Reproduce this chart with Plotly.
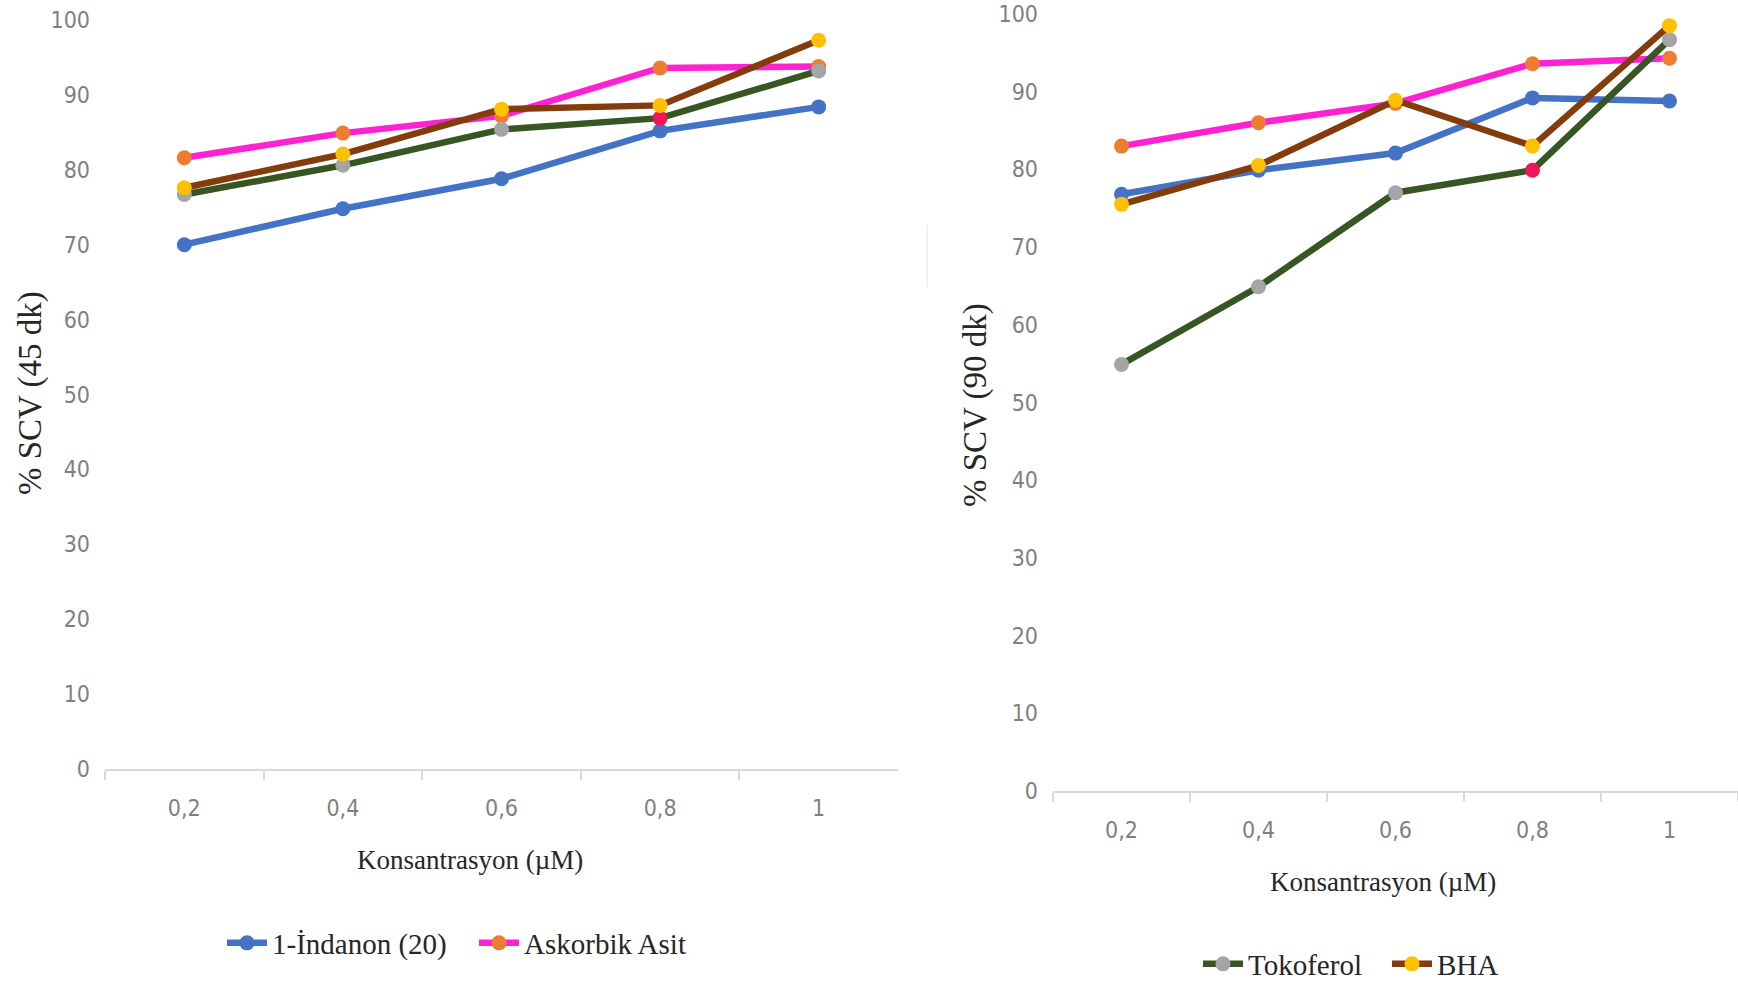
import plotly.graph_objects as go

# Concentrations (µM) shown as category labels on both panels
konsantrasyon = ["0,2", "0,4", "0,6", "0,8", "1"]

# % SCV after 45 minutes
indanon_45 = [70.0, 74.8, 78.8, 85.2, 88.4]
askorbik_45 = [81.6, 84.9, 87.2, 93.6, 93.8]
tokoferol_45 = [76.7, 80.6, 85.4, 86.9, 93.2]
bha_45 = [77.6, 82.1, 88.1, 88.6, 97.3]

# % SCV after 90 minutes
indanon_90 = [76.8, 79.9, 82.1, 89.2, 88.8]
askorbik_90 = [83.0, 86.0, 88.5, 93.6, 94.3]
tokoferol_90 = [54.9, 64.9, 77.0, 79.9, 96.7]
bha_90 = [75.5, 80.5, 88.9, 83.0, 98.5]

y_ticks = [0, 10, 20, 30, 40, 50, 60, 70, 80, 90, 100]

W, H = 1738, 983

series_style = {
    "1-İndanon (20)": dict(line="#4472C4", marker=["#4472C4"] * 5),
    "Askorbik Asit": dict(line="#FF22D2", marker=["#ED7D31"] * 5),
    "Tokoferol": dict(line="#375623", marker=["#A5A5A5", "#A5A5A5", "#A5A5A5", "#F0145A", "#A5A5A5"]),
    "BHA": dict(line="#843C0C", marker=["#FFC000"] * 5),
}

panels = [
    dict(xa="x", ya="y", data=[indanon_45, askorbik_45, tokoferol_45, bha_45],
         legend="legend", in_legend=["1-İndanon (20)", "Askorbik Asit"]),
    dict(xa="x2", ya="y2", data=[indanon_90, askorbik_90, tokoferol_90, bha_90],
         legend="legend2", in_legend=["Tokoferol", "BHA"]),
]

fig = go.Figure()
for p in panels:
    for name, vals in zip(series_style.keys(), p["data"]):
        st = series_style[name]
        fig.add_trace(go.Scatter(
            x=konsantrasyon, y=vals, name=name, mode="lines+markers",
            xaxis=p["xa"], yaxis=p["ya"],
            line=dict(color=st["line"], width=6.5),
            marker=dict(color=st["marker"], size=15, line=dict(width=0)),
            showlegend=name in p["in_legend"], legend=p["legend"],
            cliponaxis=False,
        ))

tick_font = dict(family="Liberation Sans Narrow, DejaVu Sans Condensed, sans-serif",
                 size=23, color="#808080")
title_font = dict(family="Liberation Serif, Times New Roman, serif", size=27, color="#262626")

xcommon = dict(type="category", tickson="boundaries", ticks="outside", ticklen=9,
               tickcolor="#d9d9d9", tickwidth=1.5, showline=True, linecolor="#d9d9d9",
               linewidth=2, showgrid=False, zeroline=False, tickfont=tick_font,
               ticklabelstandoff=17, range=[-0.5, 4.5])
ycommon = dict(range=[0, 100], tickvals=y_ticks, showgrid=False, zeroline=False,
               showline=False, ticks="", tickfont=tick_font, ticklabelstandoff=14)

def py(px):
    return 1 - px / H

fig.update_layout(
    width=W, height=H,
    margin=dict(l=0, r=0, t=0, b=0, autoexpand=False),
    paper_bgcolor="white", plot_bgcolor="white",
    xaxis=dict(xcommon, domain=[105 / W, 898 / W], anchor="y", automargin=False),
    yaxis=dict(ycommon, domain=[py(769), py(20)], anchor="x", automargin=False),
    xaxis2=dict(xcommon, domain=[1053 / W, 1.0], anchor="y2", automargin=False),
    yaxis2=dict(ycommon, domain=[py(791), py(14)], anchor="x2", automargin=False),
    legend=dict(orientation="h", x=222 / W, xanchor="left", y=py(943), yanchor="middle",
                font=dict(title_font, size=29), bgcolor="rgba(0,0,0,0)",
                itemwidth=40, tracegroupgap=0, entrywidth=197, entrywidthmode="pixels"),
    legend2=dict(orientation="h", x=1198 / W, xanchor="left", y=py(964), yanchor="middle",
                 font=dict(title_font, size=29), bgcolor="rgba(0,0,0,0)",
                 itemwidth=40, entrywidth=134, entrywidthmode="pixels"),
    showlegend=True,
    annotations=[
        dict(text="Konsantrasyon (µM)", x=470 / W, y=py(860), xref="paper", yref="paper",
             showarrow=False, font=title_font, xanchor="center", yanchor="middle"),
        dict(text="Konsantrasyon (µM)", x=1383 / W, y=py(882), xref="paper", yref="paper",
             showarrow=False, font=title_font, xanchor="center", yanchor="middle"),
        dict(text="% SCV (45 dk)", x=30 / W, y=py(393), xref="paper", yref="paper",
             showarrow=False, font=dict(title_font, size=33), textangle=-90,
             xanchor="center", yanchor="middle"),
        dict(text="% SCV (90 dk)", x=975 / W, y=py(405), xref="paper", yref="paper",
             showarrow=False, font=dict(title_font, size=33), textangle=-90,
             xanchor="center", yanchor="middle"),
    ],
    shapes=[
        dict(type="line", xref="paper", yref="paper", x0=927 / W, x1=927 / W,
             y0=py(287), y1=py(225), line=dict(color="#ececec", width=1.5)),
    ],
)

fig.write_html("out.html")
